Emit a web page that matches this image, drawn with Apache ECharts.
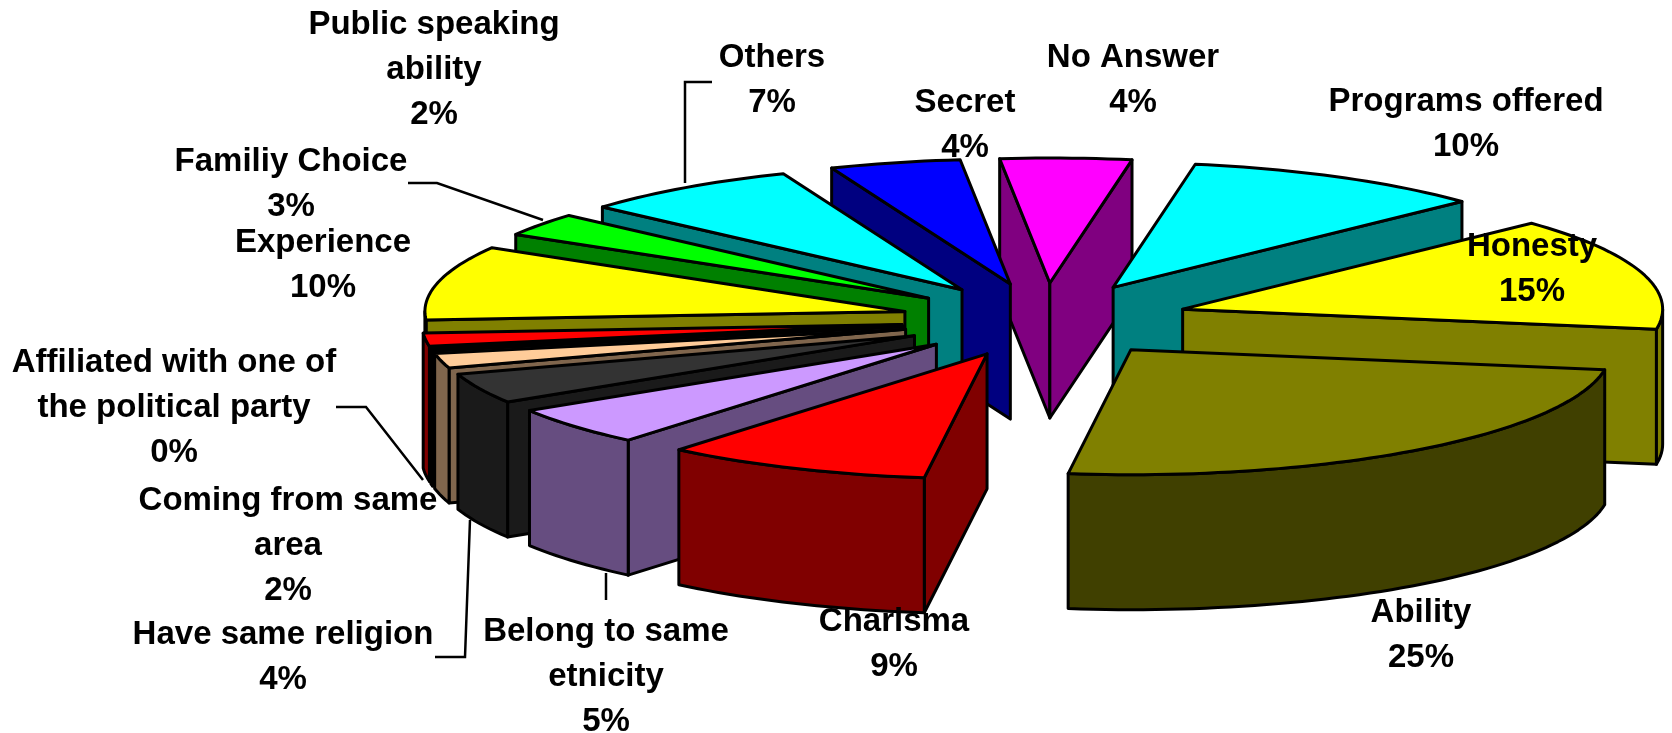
<!DOCTYPE html>
<html><head><meta charset="utf-8">
<style>html,body{margin:0;padding:0;background:#fff}#c{width:1672px;height:733px}</style>
<script src="https://cdn.jsdelivr.net/npm/echarts@6/dist/echarts.min.js"></script>
</head><body><div id="c"></div>
<script>
// ---- data (clockwise from the first slice)
const names = ['No Answer','Programs offered','Honesty','Ability','Charisma','Belong to same etnicity','Have same religion','Coming from same area','Affiliated with one of the political party','Public speaking ability','Experience','Familiy Choice','Others','Secret'];
const values = [4.4,10.2,14.6,24.5,9,5,3.9,1.9,0.3,1.7,9.6,3,7.4,4.4];
const labelLines = [['No Answer'],['Programs offered'],['Honesty'],['Ability'],['Charisma'],['Belong to same','etnicity'],['Have same religion'],['Coming from same','area'],['Affiliated with one of','the political party'],['Public speaking','ability'],['Experience'],['Familiy Choice'],['Others'],['Secret']];
// ---- styles
const topColors = ['#ff00ff','#00ffff','#ffff00','#808000','#ff0000','#cc99ff','#333333','#ffcc99','#9999cc','#ff0000','#ffff00','#00ff00','#00ffff','#0000ff'];
const sideColors = ['#800080','#008080','#808000','#404000','#800000','#664d80','#1a1a1a','#80664d','#7a7aa0','#800000','#808000','#008000','#008080','#000080'];
// ---- layout
const CX=1045, CY=320, RX=480, RY=125, EX=144, EY=37, H=135, START=-6;
const labelPos = [[1133,58],[1466,102],[1532,247],[1421,613],[894,622],[606,632],[283,635],[288,501],[174,363],[434,25],[323,243],[291,162],[772,58],[965,103]];
const leaders = [
 [[685,183],[685,82],[712,82]],
 [[408,183],[437,183],[543,220]],
 [[336,407],[366,407],[423,480]],
 [[470,520],[465,657],[435,657]],
 [[606,573],[606,600]]
];
const FONT='bold 33px "Liberation Sans", Arial, sans-serif', LH=45;

const total = values.reduce((a,b)=>a+b,0);
let acc = START;
const slices = values.map(v=>{const a0=acc; acc+=v/total*360; return {a0,a1:acc};});
const rad = d=>d*Math.PI/180;
const apexOf = s=>{const m=rad((s.a0+s.a1)/2); return [CX+EX*Math.sin(m), CY-EY*Math.cos(m)];};
const rim = (A,d)=>[A[0]+RX*Math.sin(rad(d)), A[1]-RY*Math.cos(rad(d))];
const down = p=>[p[0],p[1]+H];
const arc = (A,a,b)=>{const n=Math.max(2,Math.ceil(Math.abs(b-a)/1.5)); const r=[]; for(let i=0;i<=n;i++) r.push(rim(A,a+(b-a)*i/n)); return r;};
// back-to-front painting order
const order = slices.map((s,i)=>i).sort((p,q)=>apexOf(slices[p])[1]-apexOf(slices[q])[1]);
const LS={stroke:'#000',lineWidth:3,lineJoin:'round'};
const poly=(pts,fill)=>({type:'polygon',shape:{points:pts},style:Object.assign({fill},LS),silent:true});

function renderSlice(params,api){
  const i=api.value(1), s=slices[i], A=apexOf(s), kids=[];
  const R0=rim(A,s.a0), R1=rim(A,s.a1), side=sideColors[i];
  if(Math.sin(rad(s.a0))<0) kids.push(poly([A,R0,down(R0),down(A)],side));
  if(Math.sin(rad(s.a1))>0) kids.push(poly([A,R1,down(R1),down(A)],side));
  const lo=Math.max(s.a0,90), hi=Math.min(s.a1,270);
  if(hi>lo){const t=arc(A,lo,hi); kids.push(poly(t.concat(t.map(down).reverse()),side));}
  kids.push(poly([A].concat(arc(A,s.a0,s.a1)),topColors[i]));
  return {type:'group',children:kids};
}
function renderLabel(params,api){
  const i=api.value(1), p=labelPos[i];
  const text=labelLines[i].concat([Math.round(api.value(0))+'%']);
  return {type:'group',children:text.map((t,k)=>({type:'text',silent:true,style:{text:t,x:p[0],y:p[1]+k*LH,textAlign:'center',textVerticalAlign:'middle',font:FONT,fill:'#000'}}))};
}
function renderLeader(params,api){
  return {type:'polyline',silent:true,shape:{points:leaders[params.dataIndex]},style:{stroke:'#000',lineWidth:2.5,fill:null}};
}
const sliceData = order.map(i=>({name:names[i],value:[values[i],i]}));
const chart=echarts.init(document.getElementById('c'),null,{renderer:'canvas'});
chart.setOption({
  animation:false,backgroundColor:'#fff',
  series:[
    {type:'custom',coordinateSystem:'none',z:1,data:leaders.map((l,i)=>[i]),renderItem:renderLeader,silent:true},
    {type:'custom',coordinateSystem:'none',z:2,data:sliceData,renderItem:renderSlice,silent:true},
    {type:'custom',coordinateSystem:'none',z:3,data:sliceData,renderItem:renderLabel,silent:true}
  ]
});
</script></body></html>
